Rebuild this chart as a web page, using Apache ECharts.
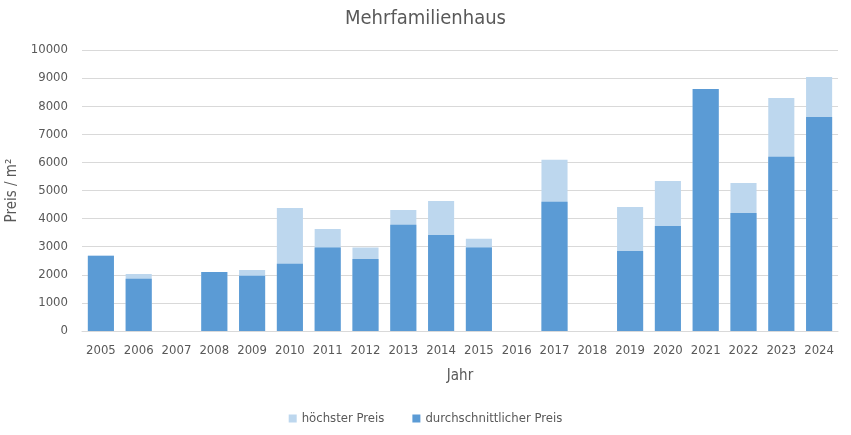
<!DOCTYPE html>
<html>
<head>
<meta charset="utf-8">
<script src="https://cdn.jsdelivr.net/npm/echarts@6/dist/echarts.min.js"></script>
<style>html,body{margin:0;padding:0;background:#fff;}#c{width:851px;height:435px;}</style>
</head>
<body>
<div id="c"></div>
<script>
const years = ['2005','2006','2007','2008','2009','2010','2011','2012','2013','2014','2015','2016','2017','2018','2019','2020','2021','2022','2023','2024'];
const hoechsterPreis = [2680, 2030, null, 2100, 2170, 4380, 3630, 2970, 4310, 4630, 3280, null, 6090, null, 4410, 5340, 8610, 5270, 8290, 9040];
const durchschnittPreis = [2680, 1860, null, 2100, 1970, 2390, 2970, 2560, 3780, 3420, 2970, null, 4600, null, 2850, 3740, 8610, 4200, 6200, 7620];

const FONT = '"Liberation Sans Narrow","DejaVu Sans Condensed","Open Sans",sans-serif';
const chart = echarts.init(document.getElementById('c'));
chart.setOption({
  animation: false,
  backgroundColor: '#fff',
  title: {
    text: 'Mehrfamilienhaus',
    left: 'center', top: 4,
    textStyle: { fontFamily: FONT, fontSize: 20, fontWeight: 'normal', color: '#595959' }
  },
  legend: {
    bottom: 5, left: 'center',
    itemWidth: 8, itemHeight: 8, itemGap: 28,
    icon: 'rect',
    textStyle: { fontFamily: FONT, fontSize: 13, color: '#595959' },
    data: ['höchster Preis', 'durchschnittlicher Preis']
  },
  grid: { left: 82, right: 13, top: 50, bottom: 104, containLabel: false, outerBoundsMode: 'none' },
  xAxis: {
    type: 'category', data: years,
    name: 'Jahr', nameLocation: 'middle', nameGap: 38,
    nameTextStyle: { fontFamily: FONT, fontSize: 15, color: '#595959' },
    axisLine: { lineStyle: { color: '#d9d9d9' } },
    axisTick: { show: false },
    axisLabel: { fontFamily: FONT, fontSize: 13, color: '#595959', margin: 13, interval: 0 }
  },
  yAxis: {
    type: 'value', min: 0, max: 10000, interval: 1000,
    name: 'Preis / m²', nameLocation: 'middle', nameGap: 57,
    nameTextStyle: { fontFamily: FONT, fontSize: 15, color: '#595959' },
    axisLine: { show: false }, axisTick: { show: false },
    splitLine: { lineStyle: { color: '#d9d9d9' } },
    axisLabel: { fontFamily: FONT, fontSize: 13, color: '#595959', margin: 14, formatter: v => String(v) }
  },
  series: [
    { name: 'höchster Preis', type: 'bar', data: hoechsterPreis, barWidth: '69%', barGap: '-100%',
      itemStyle: { color: '#BDD7EE' } },
    { name: 'durchschnittlicher Preis', type: 'bar', data: durchschnittPreis, barWidth: '69%', barGap: '-100%',
      itemStyle: { color: '#5B9BD5' } }
  ]
});
</script>
</body>
</html>
